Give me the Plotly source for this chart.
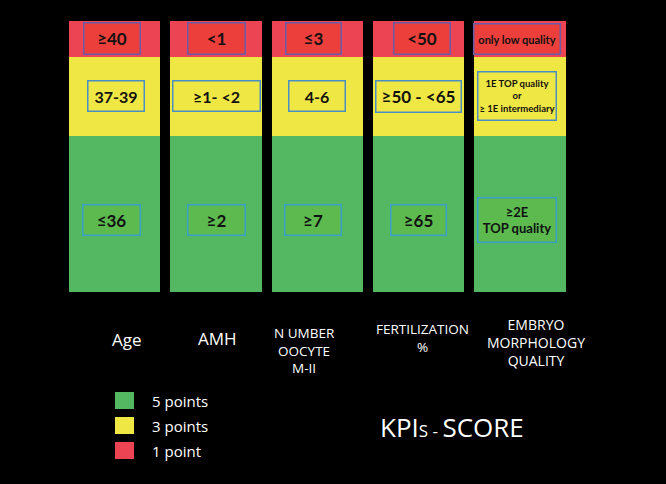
import plotly.graph_objects as go

# categories (columns) and their labels under the chart
categories = ["Age", "AMH", "Oocyte", "Fertilization", "Embryo"]
axis_labels = ["Age", "AMH", "N UMBER<br>OOCYTE<br>M-II", "FERTILIZATION<br>%",
               "EMBRYO<br>MORPHOLOGY<br>QUALITY"]

# score bands, bottom to top
band_names = ["5 points", "3 points", "1 point"]
band_heights = [157, 79, 36]
band_colors = ["#54b862", "#efe744", "#ec4453"]

# thresholds written in each band
green_labels = ["≤36", "≥2", "≥7", "≥65", "≥2E<br>TOP quality"]
yellow_labels = ["37-39", "≥1- <2", "4-6", "≥50 - <65",
                 "1E TOP quality<br>or<br>≥ 1E intermediary"]
red_labels = ["≥40", "<1", "≤3", "<50", "only low quality"]

fig = go.Figure()
for name, h, c in zip(band_names, band_heights, band_colors):
    fig.add_trace(go.Bar(x=categories, y=[h] * len(categories), name=name,
                         marker=dict(color=c, line=dict(width=0)), showlegend=False,
                         hoverinfo="skip"))

# label boxes inside the bands
box_style = {
    "green": dict(labels=green_labels, bg="#5cba4f", border="#3a9fc9",
                  w=[56, 56, 55, 54, 77], h=[29, 29, 29, 29, 43],
                  dx=[-3, 0, -4, 0, -3], dy=-6, size=[17, 17, 17, 17, 13]),
    "yellow": dict(labels=yellow_labels, bg="#efe744", border="#4a8fc2",
                   w=[55, 86, 55, 84, 77], h=[29, 29, 29, 30, 47],
                   dx=[1, 0, 0, 0, -3], dy=0, size=[16, 16, 16, 17, 9.5]),
    "red": dict(labels=red_labels, bg="#ec3f3b", border="#6a5aa8",
                w=[55, 56, 54, 55, 85], h=[30, 30, 30, 30, 29],
                dx=[-3, 0, -4, 3, -3], dy=0, size=[17, 17, 17, 17, 11]),
}

base = 0
for key, h in zip(["green", "yellow", "red"], band_heights):
    s = box_style[key]
    mid = base + h / 2
    for i, cat in enumerate(categories):
        fig.add_annotation(x=cat, y=mid, text="<b>" + s["labels"][i] + "</b>",
                           showarrow=False, xshift=s["dx"][i], yshift=s["dy"],
                           width=s["w"][i], height=s["h"][i], borderpad=0,
                           bgcolor=s["bg"], bordercolor=s["border"], borderwidth=1.5,
                           font=dict(family="Lato", size=s["size"][i], color="#111111"))
    base += h

# column labels under the bars
label_dx = [12, 1, -13, 4, 16]
label_dy = [-47, -46, -58, -46, -50]
label_size = [17, 17, 13.5, 13.5, 14]
for i, cat in enumerate(categories):
    fig.add_annotation(x=cat, y=0, yref="paper", text=axis_labels[i], showarrow=False,
                       xshift=label_dx[i], yshift=label_dy[i], yanchor="middle",
                       font=dict(family="Open Sans", size=label_size[i], color="white"))

# legend drawn by hand (big squares)
for k in range(len(band_names)):
    top = -100 - 25 * k
    fig.add_shape(type="rect", xref="paper", yref="paper", xanchor=0, yanchor=0,
                  xsizemode="pixel", ysizemode="pixel", x0=51, x1=70, y0=top - 17, y1=top,
                  fillcolor=band_colors[k], line=dict(width=0))
    fig.add_annotation(x=0, y=0, xref="paper", yref="paper", xshift=86, yshift=top - 9,
                       xanchor="left", yanchor="middle", showarrow=False,
                       text=band_names[k],
                       font=dict(family="Open Sans", size=15, color="white"))

fig.add_annotation(x=0, y=0, xref="paper", yref="paper", xshift=388, yshift=-135,
                   xanchor="center", yanchor="middle", showarrow=False,
                   text="KPI<span style='font-size:17px'>S - </span>SCORE",
                   font=dict(family="Open Sans", size=26, color="white"))

fig.update_layout(
    width=666, height=484,
    margin=dict(l=64, r=79, t=21, b=192),
    paper_bgcolor="black", plot_bgcolor="black",
    barmode="stack", bargap=0.099,
    xaxis=dict(visible=False),
    yaxis=dict(visible=False, range=[0, sum(band_heights)]),
)

fig.write_html("out.html", config={"displayModeBar": False},
               post_script="document.body.style.margin='0';document.body.style.overflow='hidden';")
